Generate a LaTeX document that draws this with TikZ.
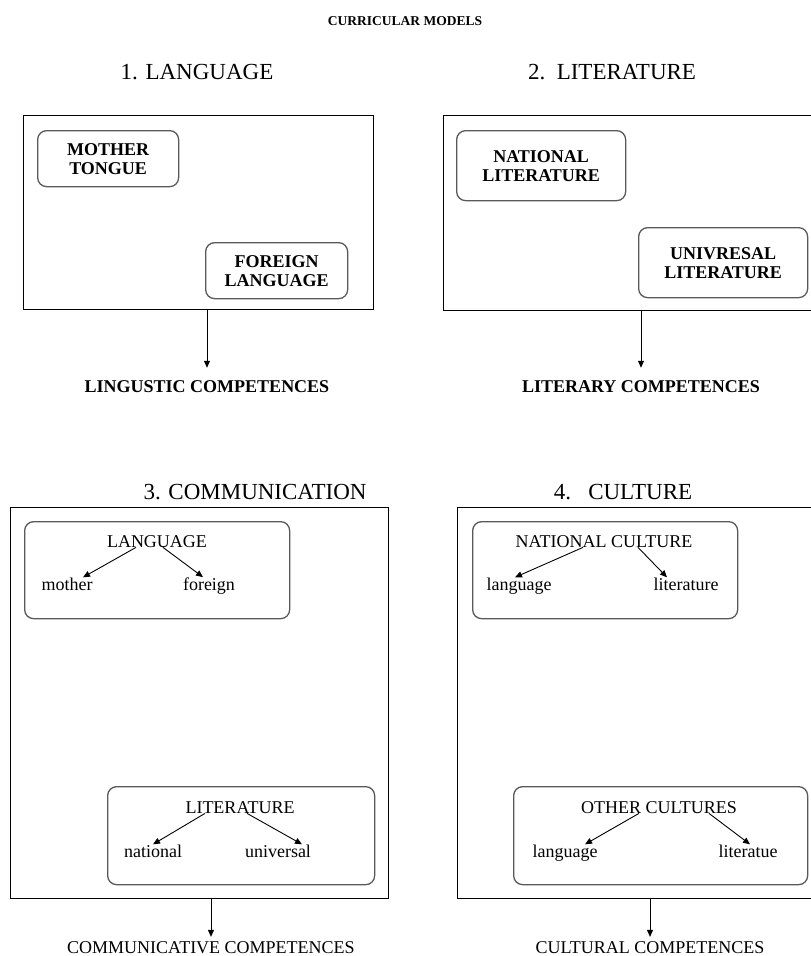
\documentclass[tikz,border=0pt]{standalone}
\usepackage{fontspec}
\setmainfont{Liberation Serif}
\usetikzlibrary{arrows.meta}

\begin{document}
\begin{tikzpicture}[x=1pt, y=-1pt,
  panel/.style={rectangle, draw=black, line width=1pt, anchor=north west, inner sep=0pt},
  subbox/.style={rectangle, rounded corners=9pt, draw=black!65, line width=1.3pt, anchor=north west, inner sep=0pt,
    font=\fontsize{18}{19}\selectfont\bfseries, align=center},
  plain/.style={font=\fontsize{18}{20}\selectfont, inner sep=0pt, anchor=base},
  heading/.style={font=\fontsize{23}{25}\selectfont, inner sep=0pt},
  boldlabel/.style={font=\fontsize{18}{20}\selectfont\bfseries, inner sep=0pt},
  tip/.style={-{Triangle[length=7pt, width=6pt]}, line width=0.9pt}]

\useasboundingbox (0,0) rectangle (811,956);

\node[font=\fontsize{13.5}{15}\selectfont\bfseries] (title) at (405,21) {CURRICULAR MODELS};

% 1. language
\node[heading] (head1) at (197,72) {1. LANGUAGE};
\node[panel, minimum width=350, minimum height=194] (langbox) at (23,115) {};
\node[subbox, minimum width=141, minimum height=56] (mother) at (37,130) {MOTHER\\TONGUE};
\node[subbox, minimum width=142, minimum height=56] (foreign) at (205,242) {FOREIGN\\LANGUAGE};
\node[boldlabel] (lingcomp) at (207,387) {LINGUSTIC COMPETENCES};
\draw[tip] (lingcomp.north |- langbox.south) -- (lingcomp.north) [shorten >=13pt];

% 2. literature
\node[heading] (head2) at (612,72) {2.\ \ LITERATURE};
\node[panel, minimum width=372, minimum height=195] (litbox) at (443,115) {};
\node[subbox, minimum width=169, minimum height=70] (natlit) at (456,130) {NATIONAL\\LITERATURE};
\node[subbox, minimum width=169, minimum height=70] (unilit) at (638,227) {UNIVRESAL\\LITERATURE};
\node[boldlabel] (litcomp) at (641,387) {LITERARY COMPETENCES};
\draw[tip] (litcomp.north |- litbox.south) -- (litcomp.north) [shorten >=13pt];

% 3. communication
\node[heading] (head3) at (255,492) {3. COMMUNICATION};
\node[panel, minimum width=378, minimum height=391] (commbox) at (10,507) {};
\node[subbox, minimum width=265, minimum height=97] (langgrp) at (24,521) {};
\node[plain] (lang3) at (157,547) {LANGUAGE};
\node[plain] (mother3) at (67,590) {mother};
\node[plain] (foreign3) at (209,590) {foreign};
\draw[tip] ([xshift=-21pt]lang3.south) -- ([xshift=16pt]mother3.north);
\draw[tip] ([xshift=6pt]lang3.south) -- ([xshift=-6pt]foreign3.north);
\node[subbox, minimum width=267, minimum height=98] (litgrp) at (107,786) {};
\node[plain] (lit3) at (240,813) {LITERATURE};
\node[plain] (national3) at (153,857) {national};
\node[plain] (universal3) at (278,857) {universal};
\draw[tip] ([xshift=-35pt]lit3.south) -- (national3.north);
\draw[tip] ([xshift=7pt]lit3.south) -- ([xshift=24pt]universal3.north);
\node[plain] (commcomp) at (211,953) {COMMUNICATIVE COMPETENCES};
\draw[tip] (commcomp.north |- commbox.south) -- (commcomp.north) [shorten >=4pt];

% 4. culture
\node[heading] (head4) at (623,492) {4.\ \ \ CULTURE};
\node[panel, minimum width=358, minimum height=391] (cultbox) at (457,507) {};
\node[subbox, minimum width=265, minimum height=97] (natgrp) at (472,521) {};
\node[plain] (natcult) at (604,547) {NATIONAL CULTURE};
\node[plain] (lang4) at (519,590) {language};
\node[plain] (lit4) at (686,590) {literature};
\draw[tip] ([xshift=-21pt]natcult.south) -- ([xshift=-4pt]lang4.north);
\draw[tip] ([xshift=34pt]natcult.south) -- ([xshift=-19pt]lit4.north);
\node[subbox, minimum width=294, minimum height=98] (othgrp) at (513,786) {};
\node[plain] (othcult) at (659,813) {OTHER CULTURES};
\node[plain] (lang5) at (565,857) {language};
\node[plain] (lit5) at (748,857) {literatue};
\draw[tip] ([xshift=-20pt]othcult.south) -- ([xshift=20pt]lang5.north);
\draw[tip] ([xshift=50pt]othcult.south) -- ([xshift=2pt]lit5.north);
\node[plain] (cultcomp) at (650,953) {CULTURAL COMPETENCES};
\draw[tip] (cultcomp.north |- cultbox.south) -- (cultcomp.north) [shorten >=4pt];

\end{tikzpicture}
\end{document}
